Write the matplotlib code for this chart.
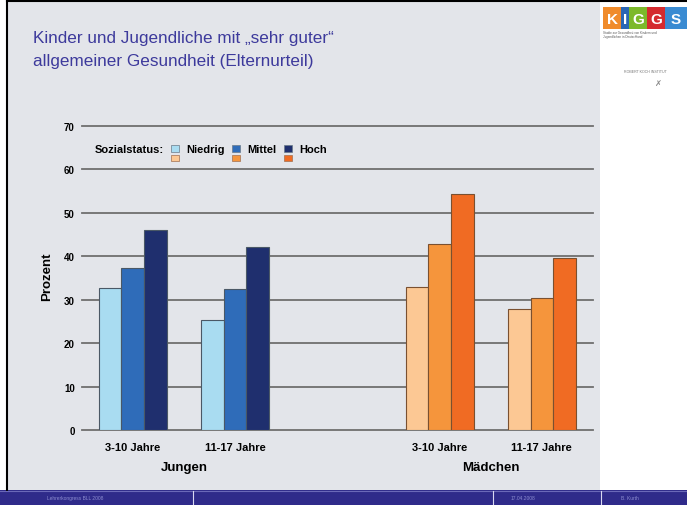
import numpy as np
import matplotlib.pyplot as plt
from matplotlib.patches import Rectangle

plt.rcParams["font.family"] = ["Liberation Sans", "DejaVu Sans"]

# data (percent with "very good" health, parents' rating)
age_groups = ["3-10 Jahre", "11-17 Jahre"]
sexes = ["Jungen", "Mädchen"]
status_labels = ["Niedrig", "Mittel", "Hoch"]
jungen_niedrig = [32.6, 25.3]
jungen_mittel = [37.2, 32.4]
jungen_hoch = [46.0, 42.1]
maedchen_niedrig = [32.8, 27.8]
maedchen_mittel = [42.9, 30.3]
maedchen_hoch = [54.2, 39.5]
yticks = [0, 10, 20, 30, 40, 50, 60, 70]

blue_cols = ["#a9dcf1", "#2f6cb9", "#1f2f6e"]
orange_cols = ["#fcc894", "#f5953c", "#f06b23"]

W, H = 687, 506
fig = plt.figure(figsize=(W / 100, H / 100), dpi=100)

# slide background, drawn in pixel coordinates
bg = fig.add_axes([0, 0, 1, 1])
bg.set_xlim(0, W)
bg.set_ylim(H, 0)
bg.axis("off")
bg.add_patch(Rectangle((7, 2), 593, 489, facecolor="#e3e5ea", edgecolor="none"))
bg.plot([7, 7], [2, 491], color="black", lw=1.5)
bg.plot([7, W], [2, 2], color="black", lw=1.5)
bg.add_patch(Rectangle((0, 491), W, 15, facecolor="#2f2b8a", edgecolor="none"))
bg.plot([0, W], [491.5, 491.5], color="#6b69b8", lw=0.8)
for sx in [193, 493, 601]:
    bg.plot([sx, sx], [492, 506], color="#d8d8f0", lw=0.8)
bg.text(75, 499, "Lehrerkongress BLL 2008", color="#8c8cd0", fontsize=3.5,
        ha="center", va="center")
bg.text(523, 499, "17.04.2008", color="#8c8cd0", fontsize=3.5, ha="center", va="center")
bg.text(630, 499, "B. Kurth", color="#8c8cd0", fontsize=3.5, ha="center", va="center")

bg.text(33, 38, "Kinder und Jugendliche mit „sehr guter“", color="#3d3a9c",
        fontsize=12.3, va="center")
bg.text(33, 61, "allgemeiner Gesundheit (Elternurteil)", color="#3d3a9c",
        fontsize=12.3, va="center")

# KiGGS logo
logo = [("K", "#f08b2b", 603, 18), ("I", "#2a66b5", 621, 8), ("G", "#7cb92a", 629, 18),
        ("G", "#d42b2f", 647, 18), ("S", "#3a8bd2", 665, 22)]
for ch, col, lx, lw_ in logo:
    bg.add_patch(Rectangle((lx, 8), lw_, 22, facecolor=col, edgecolor="none"))
    bg.text(lx + lw_ / 2, 19.5, ch, color="white", fontsize=11, fontweight="bold",
            ha="center", va="center")
bg.text(603, 35, "Studie zur Gesundheit von Kindern und\nJugendlichen in Deutschland",
        color="#555555", fontsize=2.2, va="center", linespacing=1.1)
bg.text(645, 72, "ROBERT KOCH INSTITUT", color="#777777", fontsize=2.6,
        ha="center", va="center")
bg.text(658, 84, "✗", color="#888888", fontsize=6, ha="center", va="center")

# chart axes
px_per_unit = 4.347
y0 = 431
ytop = 71
ax = fig.add_axes([81.7 / W, (H - y0) / H, (593 - 81.7) / W, ytop * px_per_unit / H])
ax.set_facecolor("none")
ax.set_xlim(-0.5, 4.5)
ax.set_ylim(0, ytop)

centers = np.array([0, 1, 3, 4])
bw = 0.222
series = [
    (jungen_niedrig + maedchen_niedrig, blue_cols[0], orange_cols[0]),
    (jungen_mittel + maedchen_mittel, blue_cols[1], orange_cols[1]),
    (jungen_hoch + maedchen_hoch, blue_cols[2], orange_cols[2]),
]
for i, (vals, bcol, ocol) in enumerate(series):
    cols = [bcol, bcol, ocol, ocol]
    edges = ["#4a5866", "#4a5866", "#7a5030", "#7a5030"]
    ax.bar(centers + (i - 1) * bw, vals, width=bw, color=cols, edgecolor=edges,
           linewidth=0.8, zorder=3)

ax.set_yticks(yticks)
ax.set_yticklabels([str(t) for t in yticks], fontsize=7, fontweight="bold")
ax.set_axisbelow(True)
for t in yticks:
    ax.axhline(t, color="#6f6f6f", lw=1.3, zorder=0, clip_on=False)
ax.tick_params(axis="y", length=0, pad=5)
ax.set_xticks(centers)
ax.set_xticklabels(age_groups * 2, fontsize=8, fontweight="bold")
ax.tick_params(axis="x", length=0, pad=9)
for sp in ax.spines.values():
    sp.set_visible(False)
ax.set_ylabel("Prozent", fontsize=9.5, fontweight="bold", labelpad=8)

trans = ax.get_xaxis_transform()
ax.text(np.mean(centers[:2]), -0.12, sexes[0], transform=trans, ha="center",
        va="center", fontsize=9.5, fontweight="bold")
ax.text(np.mean(centers[2:]), -0.12, sexes[1], transform=trans, ha="center",
        va="center", fontsize=9.5, fontweight="bold")

# legend drawn by hand, like on the slide
bg.text(95, 149.5, "Sozialstatus:", fontsize=8, fontweight="bold", va="center")
leg_x = [171, 232, 284]
for lx, lab, bcol, ocol in zip(leg_x, status_labels, blue_cols, orange_cols):
    bg.add_patch(Rectangle((lx, 146), 8, 7, facecolor=bcol, edgecolor="#6a7a88", lw=0.5))
    bg.add_patch(Rectangle((lx, 156), 8, 6, facecolor=ocol, edgecolor="#a07050", lw=0.5))
    bg.text(lx + 15, 149.5, lab, fontsize=8, fontweight="bold", va="center")

fig.savefig("out.png", dpi=100)
